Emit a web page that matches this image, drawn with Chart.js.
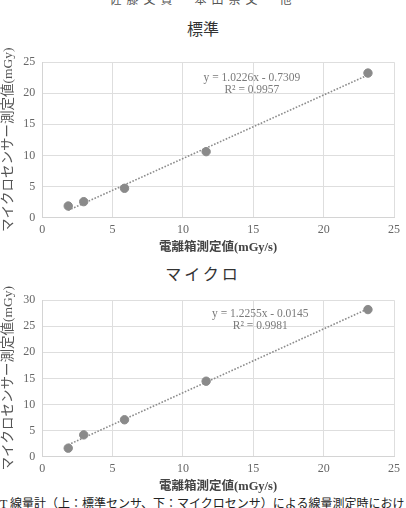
<!DOCTYPE html>
<html>
<head>
<meta charset="utf-8">
<script src="https://cdn.jsdelivr.net/npm/chart.js"></script>
<style>
body { margin: 0; background: #fff; }
#page { position: relative; width: 406px; height: 508px; overflow: hidden; background: #fff;
  font-family: "Liberation Serif", "Noto Sans CJK JP", serif; }
.txt { position: absolute; left: 0; width: 406px; text-align: center; white-space: nowrap; }
#head { top: -10px; font-size: 12px; color: #555; letter-spacing: 5px; }
#t1 { top: 16px; font-size: 16px; color: #333; }
#t2 { top: 261px; font-size: 16px; color: #333; letter-spacing: 3px; }
#cap { top: 494px; left: 0; text-align: left; font-size: 12px; color: #222; }
canvas { position: absolute; left: 0; }
#c1 { top: 48px; }
#c2 { top: 286px; }
</style>
</head>
<body>
<div id="page">
  <div class="txt" id="head">佐藤文貴・本田崇文・他</div>
  <div class="txt" id="t1">標準</div>
  <canvas id="c1" width="406" height="206"></canvas>
  <div class="txt" id="t2">マイクロ</div>
  <canvas id="c2" width="406" height="207"></canvas>
  <div class="txt" id="cap">T 線量計（上：標準センサ、下：マイクロセンサ）による線量測定時におけ</div>
</div>
<script>
// 電離箱測定値 (mGy/s)
var chamberX = [1.85, 2.95, 5.85, 11.65, 23.15];
// 標準センサ測定値 (mGy)
var standardY = [1.85, 2.55, 4.7, 10.6, 23.25];
// マイクロセンサ測定値 (mGy)
var microY = [1.6, 4.15, 7.05, 14.45, 28.2];

// trend line end points
var standardTrendX = [1.85, 23.15];
var standardTrendY = [1.16, 22.94];
var microTrendX = [1.85, 23.15];
var microTrendY = [2.25, 28.35];

var standardEq = ["y = 1.0226x - 0.7309", "R² = 0.9957"];
var microEq = ["y = 1.2255x - 0.0145", "R² = 0.9981"];

var serif = '"Liberation Serif", "Noto Sans CJK JP", serif';
var grey = "#8a8a8a";

function pts(xs, ys) {
  var out = [];
  for (var i = 0; i < xs.length; i++) out.push({x: xs[i], y: ys[i]});
  return out;
}

var eqPlugin = {
  id: "eqText",
  afterDatasetsDraw: function(chart, args, opts) {
    var ctx = chart.ctx;
    var xs = chart.scales.x, ys = chart.scales.y;
    ctx.save();
    ctx.font = "11.5px " + serif;
    ctx.fillStyle = "#7a7a7a";
    ctx.textAlign = "center";
    ctx.textBaseline = "middle";
    for (var i = 0; i < opts.lines.length; i++) {
      ctx.fillText(opts.lines[i], xs.getPixelForValue(opts.x), ys.getPixelForValue(opts.y[i]));
    }
    ctx.restore();
  }
};

function makeChart(id, ys, tx, ty, yMax, eq, eqPos) {
  new Chart(document.getElementById(id), {
    type: "scatter",
    data: {
      datasets: [{
        data: pts(chamberX, ys),
        backgroundColor: grey,
        borderColor: grey,
        pointRadius: 4.2,
        pointHoverRadius: 4.2
      }, {
        type: "line",
        data: pts(tx, ty),
        borderColor: "#8c8c8c",
        borderWidth: 1.6,
        borderDash: [1.6, 1.6],
        pointRadius: 0,
        fill: false
      }]
    },
    options: {
      responsive: false,
      animation: false,
      layout: {padding: {left: 0, right: 2, top: 2, bottom: 0}},
      plugins: {
        legend: {display: false},
        tooltip: {enabled: false},
        eqText: {lines: eq, x: eqPos.x, y: eqPos.y}
      },
      scales: {
        x: {
          type: "linear", min: 0, max: 25,
          ticks: {stepSize: 5, color: "#666", font: {family: serif, size: 12, lineHeight: 1.0}, padding: 6},
          grid: {color: "#dedede", drawTicks: false},
          border: {color: "#d4d4d4"},
          title: {display: true, text: "電離箱測定値(mGy/s)", color: "#444",
            font: {family: serif, size: 12.5, weight: "bold", lineHeight: 1.0}, padding: {top: 0, bottom: 0}}
        },
        y: {
          min: 0, max: yMax,
          ticks: {stepSize: 5, color: "#666", font: {family: serif, size: 12}, padding: 7},
          grid: {color: "#dedede", drawTicks: false},
          border: {color: "#d4d4d4"},
          title: {display: true, text: "マイクロセンサー測定値(mGy)", color: "#555",
            font: {family: serif, size: 13.5}, padding: {top: 0, bottom: 0}}
        }
      }
    },
    plugins: [eqPlugin]
  });
}

makeChart("c1", standardY, standardTrendX, standardTrendY, 25, standardEq, {x: 14.9, y: [22.5, 20.6]});
makeChart("c2", microY, microTrendX, microTrendY, 30, microEq, {x: 15.5, y: [27.3, 25.0]});
</script>
</body>
</html>
